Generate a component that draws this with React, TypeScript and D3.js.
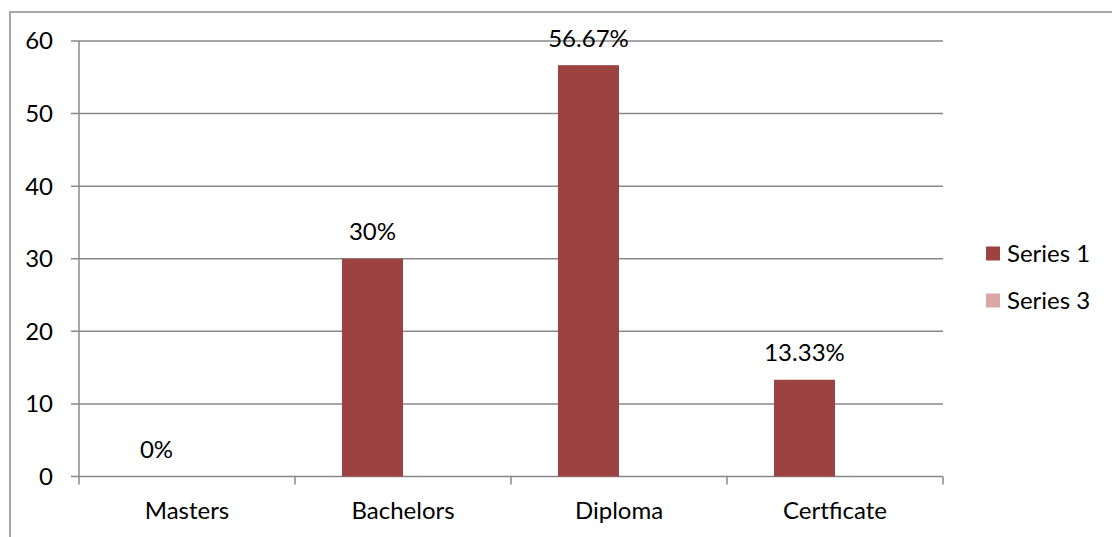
import React from "react";
import * as d3 from "d3";

const categories = ["Masters", "Bachelors", "Diploma", "Certficate"];
const series1 = [0, 30, 56.67, 13.33];
const series3 = [0, 0, 0, 0];
const labels1 = ["0%", "30%", "56.67%", "13.33%"];
const yTicks = [0, 10, 20, 30, 40, 50, 60];
const seriesNames = ["Series 1", "Series 3"];
const seriesColors = ["#9C4240", "#DBA6A6"];

export default function App() {
  const W = 1112, H = 537;
  const left = 79, right = 943, top = 41, bottom = 476.5;
  const x = d3.scaleBand<string>().domain(categories).range([left, right]).paddingInner(0).paddingOuter(0);
  const y = d3.scaleLinear().domain([0, 60]).range([bottom, top]);
  const bw = 61;
  const font = "Lato, 'Open Sans', sans-serif";
  const fs = 24;
  const grid = "#888888";
  const all = [series1, series3];
  return (
    <svg width={W} height={H} style={{ position: "absolute", left: 0, top: 0 }}>
      <rect x={0} y={0} width={W} height={H} fill="#fff" />
      <rect x={10} y={12} width={W + 20} height={H + 20} fill="none" stroke="#8c8c8c" strokeWidth={1.5} />
      {yTicks.map((t) => (
        <g key={t}>
          <line x1={71} x2={right} y1={y(t)} y2={y(t)} stroke={grid} strokeWidth={1.5} />
          <text x={53} y={y(t)} dy="0.35em" textAnchor="end" fontSize={fs} fontFamily={font} fill="#000">{t}</text>
        </g>
      ))}
      <line x1={left} x2={left} y1={top} y2={bottom + 8} stroke={grid} strokeWidth={1.5} />
      {categories.map((c) => (
        <line key={c} x1={x(c)! + x.bandwidth()} x2={x(c)! + x.bandwidth()} y1={bottom} y2={bottom + 8} stroke={grid} strokeWidth={1.5} />
      ))}
      {all.map((s, si) =>
        s.map((v, i) => {
          const cx = x(categories[i])! + x.bandwidth() / 2;
          const bx = cx - bw + si * bw;
          return <rect key={si + "-" + i} x={bx} y={y(v)} width={bw} height={bottom - y(v)} fill={seriesColors[si]} />;
        })
      )}
      {series1.map((v, i) => {
        const cx = x(categories[i])! + x.bandwidth() / 2 - bw / 2;
        return (
          <text key={i} x={cx} y={y(v) - 27} dy="0.35em" textAnchor="middle" fontSize={fs} fontFamily={font} fill="#000">{labels1[i]}</text>
        );
      })}
      {categories.map((c) => (
        <text key={c} x={x(c)! + x.bandwidth() / 2} y={511} dy="0.35em" textAnchor="middle" fontSize={fs} fontFamily={font} fill="#000">{c}</text>
      ))}
      {seriesNames.map((n, i) => (
        <g key={n}>
          <rect x={986} y={246.5 + i * 47} width={14} height={14} fill={seriesColors[i]} />
          <text x={1007} y={253.5 + i * 47} dy="0.35em" fontSize={fs} fontFamily={font} fill="#000">{n}</text>
        </g>
      ))}
    </svg>
  );
}
